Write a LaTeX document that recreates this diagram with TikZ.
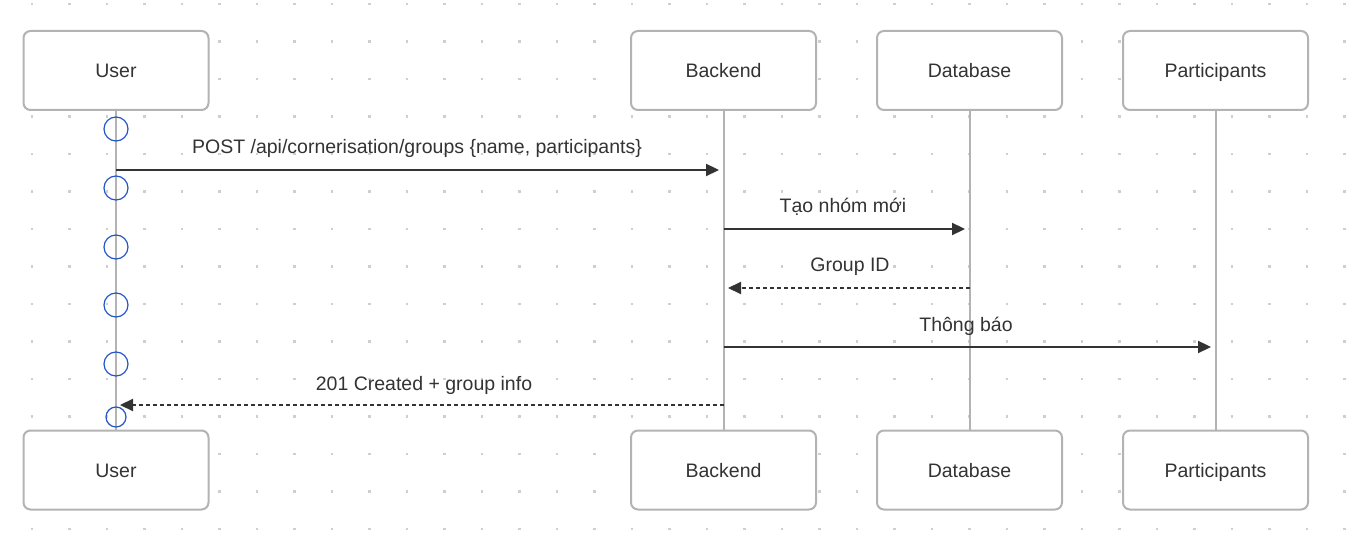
\documentclass[tikz,border=0pt]{standalone}
\usepackage{fontspec}
\setmainfont{Liberation Sans}
\usetikzlibrary{arrows.meta}
\definecolor{boxline}{HTML}{B3B3B3}
\definecolor{txt}{HTML}{333333}
\definecolor{dotc}{HTML}{CFCFCF}
\definecolor{act}{HTML}{2456C8}
\tikzset{
  actor/.style={draw=boxline, line width=2pt, rounded corners=7pt, fill=white, minimum width=185pt, minimum height=79pt, inner sep=0pt},
  atxt/.style={text=txt, font=\fontsize{19.5}{22}\selectfont, inner sep=0pt, anchor=base},
  life/.style={draw=boxline, line width=2pt},
  msg/.style={draw=txt, line width=2.2pt, -{Triangle[length=13pt,width=12pt]}},
  ret/.style={msg, dash pattern=on 4pt off 3pt},
  lbl/.style={text=txt, font=\fontsize{19.5}{22}\selectfont, inner sep=0pt, anchor=base},
  actc/.style={circle, draw=act, line width=1.2pt, minimum size=24pt, inner sep=0pt},
}
\begin{document}
\begin{tikzpicture}[x=1pt,y=-1pt]
\useasboundingbox (0,0) rectangle (1357,553);
\fill[white] (0,0) rectangle (1357,553);
\foreach \i in {0,...,35} \foreach \j in {0,...,14}
  \fill[dotc] ({32+37.5*\i-1.3},{4+37.5*\j-1.3}) rectangle ++(2.6,2.6);
% lifelines
\coordinate (uT) at (116,110); \coordinate (uB) at (116,430);
\coordinate (bT) at (723.5,110); \coordinate (bB) at (723.5,430);
\coordinate (dT) at (969.5,110); \coordinate (dB) at (969.5,430);
\coordinate (pT) at (1215.5,110); \coordinate (pB) at (1215.5,430);
\draw[life] (uT) -- (uB);
\draw[life] (bT) -- (bB);
\draw[life] (dT) -- (dB);
\draw[life] (pT) -- (pB);
% actors
\node[actor] (user1) at (116,70.5) {};
\node[actor] (back1) at (723.5,70.5) {};
\node[actor] (db1) at (969.5,70.5) {};
\node[actor] (part1) at (1215.5,70.5) {};
\node[actor] (user2) at (116,470) {};
\node[actor] (back2) at (723.5,470) {};
\node[actor] (db2) at (969.5,470) {};
\node[actor] (part2) at (1215.5,470) {};
\node[atxt] (tu1) at (116,78) {User};
\node[atxt] (tb1) at (723.5,78) {Backend};
\node[atxt] (td1) at (969.5,78) {Database};
\node[atxt] (tp1) at (1215.5,78) {Participants};
\node[atxt] (tu2) at (116,477) {User};
\node[atxt] (tb2) at (723.5,477) {Backend};
\node[atxt] (td2) at (969.5,477) {Database};
\node[atxt] (tp2) at (1215.5,477) {Participants};
% activation circles
\node[actc] (c1) at (116,129) {};
\node[actc] (c2) at (116,188) {};
\node[actc] (c3) at (116,247) {};
\node[actc] (c4) at (116,305) {};
\node[actc] (c5) at (116,364) {};
\node[actc, minimum size=20pt] (c6) at (116,417) {};
% messages
\coordinate (m1s) at (116,170); \coordinate (m1e) at (719,170);
\coordinate (m2s) at (723.5,229); \coordinate (m2e) at (965,229);
\coordinate (m3s) at (969.5,288); \coordinate (m3e) at (728,288);
\coordinate (m4s) at (723.5,347); \coordinate (m4e) at (1211,347);
\coordinate (m5s) at (723.5,405); \coordinate (m5e) at (120,405);
\draw[msg] (m1s) -- (m1e);
\draw[msg] (m2s) -- (m2e);
\draw[ret] (m3s) -- (m3e);
\draw[msg] (m4s) -- (m4e);
\draw[ret] (m5s) -- (m5e);
\node[lbl] (l1) at (417,154) {POST /api/cornerisation/groups \{name, participants\}};
\node[lbl] (l2) at (843,213) {Tạo nhóm mới};
\node[lbl] (l3) at (850,272) {Group ID};
\node[lbl] (l4) at (966,331) {Thông báo};
\node[lbl] (l5) at (424,390) {201 Created + group info};
\end{tikzpicture}
\end{document}
